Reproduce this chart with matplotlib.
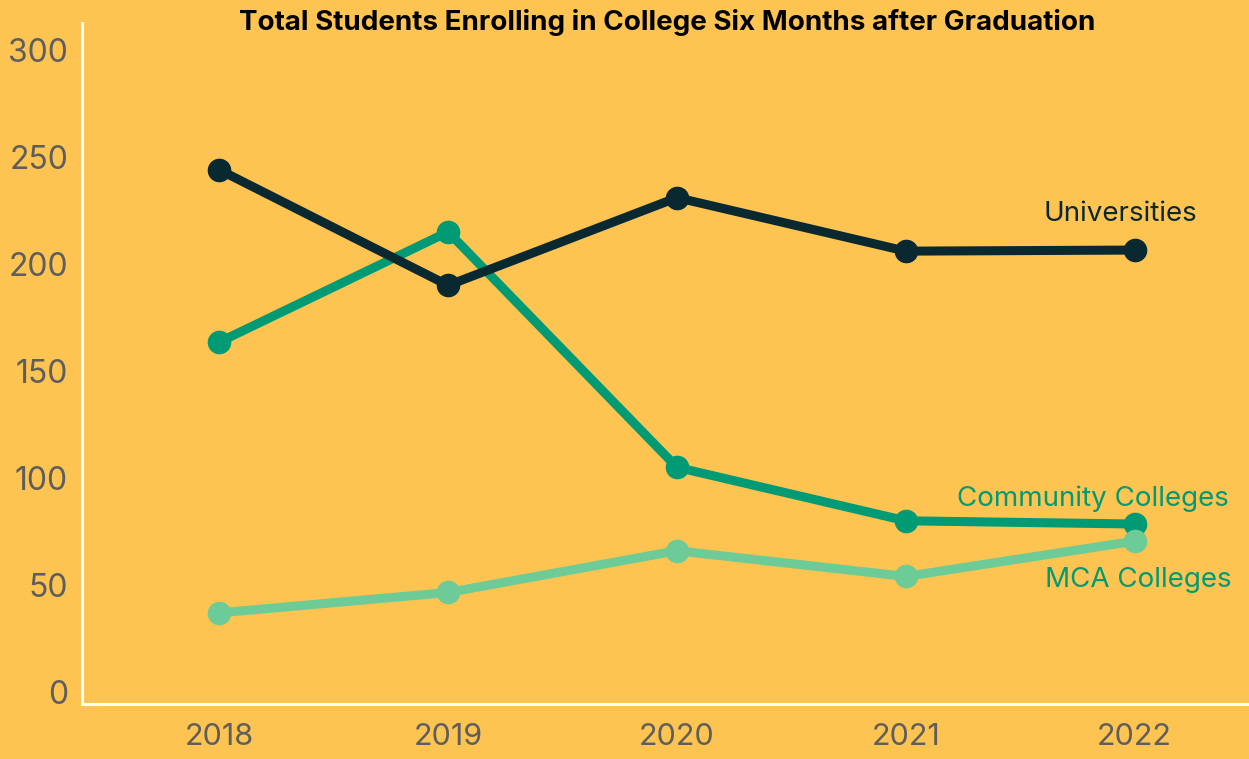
import matplotlib
matplotlib.use("Agg")
import matplotlib.pyplot as plt

years = [2018, 2019, 2020, 2021, 2022]
universities = [244, 190, 231, 206, 206.5]
community = [163.5, 215, 105, 80, 78.5]
mca = [37, 46.5, 66, 54, 70.5]
yticks = [0, 50, 100, 150, 200, 250, 300]
title = "Total Students Enrolling in College Six Months after Graduation"

BG = "#FDC452"
DARK = "#0A2830"
TEAL = "#009A74"
LIGHT = "#6CCB97"
GREY = "#5E5E5E"

plt.rcParams['font.family'] = ['Inter', 'DejaVu Sans']

fig = plt.figure(figsize=(12.49, 7.59), dpi=100, facecolor=BG)
ax = fig.add_axes([82/1249, 1-704/759, 1-82/1249, (704-23)/759])
ax.set_facecolor(BG)

ax.plot(years, universities, color=DARK, lw=6.5, marker='o', ms=16, zorder=3)
ax.plot(years, community, color=TEAL, lw=6.5, marker='o', ms=16, zorder=2)
ax.plot(years, mca, color=LIGHT, lw=6.5, marker='o', ms=16, zorder=2)

ax.set_xlim(2017.4, 2022.5)
ax.set_ylim(-5.6, 312.6)
ax.set_xticks(years)
ax.set_xticklabels([str(y) for y in years])
ax.set_yticks(yticks)
ax.tick_params(length=0, labelsize=23, colors=GREY)
ax.tick_params(axis='y', pad=10)
ax.tick_params(axis='x', labelsize=22, pad=14)
for s in ['top', 'right']:
    ax.spines[s].set_visible(False)
for s in ['left', 'bottom']:
    ax.spines[s].set_color('white')
    ax.spines[s].set_linewidth(2.2)

ax.text(2021.94, 223.5, "Universities", color=DARK, fontsize=20, ha='center', va='center', zorder=4)
ax.text(2021.82, 90.5, "Community Colleges", color=TEAL, fontsize=20, ha='center', va='center', zorder=4)
ax.text(2022.015, 52.5, "MCA Colleges", color=TEAL, fontsize=20, ha='center', va='center', zorder=4)

fig.text(667/1249, 1-22/759, title, fontsize=20, fontweight='bold', color='black', ha='center', va='center')

fig.savefig("out.png", dpi=100, facecolor=BG)
